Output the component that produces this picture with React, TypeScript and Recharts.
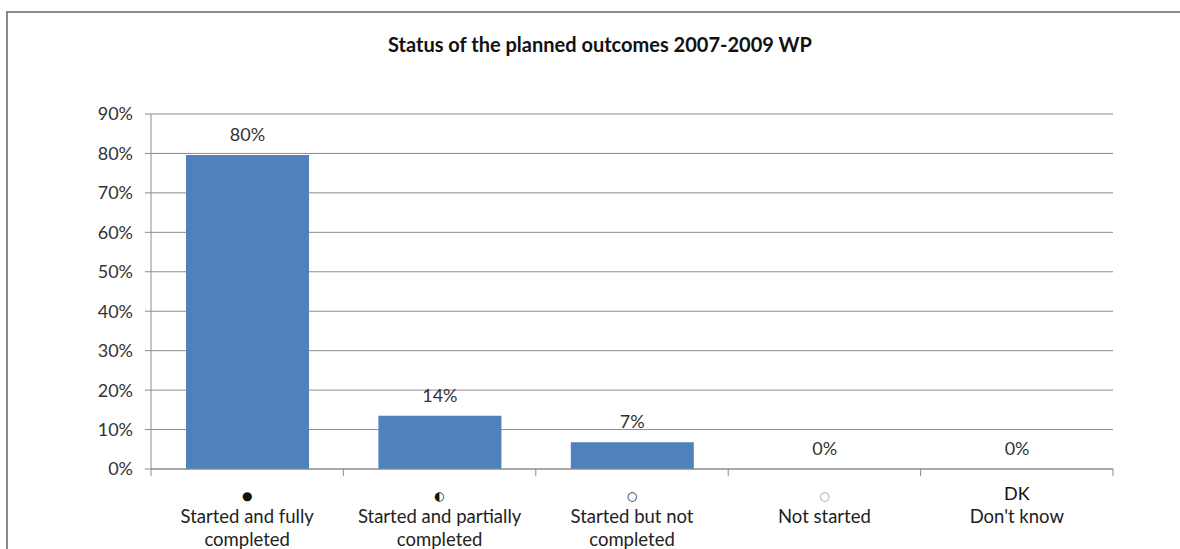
import React from "react";
import { BarChart, Bar, XAxis, YAxis, CartesianGrid, LabelList } from "recharts";

const categories = ["full", "partial", "notCompleted", "notStarted", "dk"];
const symbols = ["●", "◐", "○", "○", "DK"];
const names = [
  ["Started and fully", "completed"],
  ["Started and partially", "completed"],
  ["Started but not", "completed"],
  ["Not started"],
  ["Don't know"],
];
const values = [79.6, 13.5, 6.8, 0, 0];
const valueLabels = ["80%", "14%", "7%", "0%", "0%"];
const yTicks = [0, 10, 20, 30, 40, 50, 60, 70, 80, 90];

const data = categories.map((c, i) => ({ key: c, value: values[i] }));

const FONT = "Lato, 'Open Sans', sans-serif";
const AXIS = "#8c8c8c";

const XTick = (props: any) => {
  const { x, y, payload, visibleTicksCount } = props;
  const i = payload.index;
  const half = payload.offset ?? 0;
  const isText = symbols[i] === "DK";
  const axisY = y - 8;
  const last = i === (visibleTicksCount ?? categories.length) - 1;
  return (
    <g>
      <line x1={x - half} x2={x - half} y1={axisY} y2={axisY + 7} stroke={AXIS} />
      {last && (
        <line x1={x + half} x2={x + half} y1={axisY} y2={axisY + 7} stroke={AXIS} />
      )}
      <text
        x={x}
        y={y + 23}
        textAnchor="middle"
        fontFamily={isText ? FONT : "'DejaVu Sans', sans-serif"}
        fontSize={isText ? 18 : 12}
        fill={i === 3 ? "#999" : "#111"}
      >
        {symbols[i]}
      </text>
      {names[i].map((line, k) => (
        <text
          key={k}
          x={x}
          y={y + 46 + k * 23}
          textAnchor="middle"
          fontFamily={FONT}
          fontSize={18.5}
          fill="#222"
        >
          {line}
        </text>
      ))}
    </g>
  );
};

const ValueLabel = (props: any) => {
  const { x, y, width, index } = props;
  return (
    <text
      x={x + width / 2}
      y={y - 14}
      textAnchor="middle"
      fontFamily={FONT}
      fontSize={18}
      fill="#333"
    >
      {valueLabels[index]}
    </text>
  );
};

export default function App() {
  return (
    <div
      style={{
        position: "absolute",
        left: 0,
        top: 0,
        width: 1180,
        height: 549,
        overflow: "hidden",
        background: "#fff",
      }}
    >
      <div
        style={{
          position: "absolute",
          left: 6,
          top: 11,
          width: 1200,
          height: 600,
          borderLeft: "2px solid #8a8a8a",
          borderTop: "2px solid #8a8a8a",
        }}
      />
      <div
        style={{
          position: "absolute",
          left: 0,
          top: 32,
          width: 1200,
          textAlign: "center",
          fontFamily: FONT,
          fontWeight: 700,
          fontSize: 20,
          color: "#111",
        }}
      >
        Status of the planned outcomes 2007-2009 WP
      </div>
      <div style={{ position: "absolute", left: 0, top: 0 }}>
        <BarChart
          width={1180}
          height={549}
          data={data}
          margin={{ top: 114, right: 67, bottom: 0, left: 91 }}
          barSize={123}
        >
          <CartesianGrid vertical={false} stroke={AXIS} strokeWidth={1} />
          <XAxis
            dataKey="key"
            height={80}
            interval={0}
            tick={<XTick />}
            tickLine={false}
            axisLine={{ stroke: AXIS }}
          />
          <YAxis
            width={60}
            domain={[0, 90]}
            ticks={yTicks}
            interval={0}
            tickFormatter={(v: number) => `${v}%`}
            tickSize={6}
            tickMargin={12}
            tickLine={{ stroke: AXIS }}
            axisLine={{ stroke: AXIS }}
            tick={{ fontFamily: FONT, fontSize: 18, fill: "#333" }}
          />
          <Bar
            dataKey="value"
            fill="#4f81bd"
            minPointSize={0.01}
            isAnimationActive={false}
          >
            <LabelList dataKey="value" content={<ValueLabel />} />
          </Bar>
        </BarChart>
      </div>
    </div>
  );
}
